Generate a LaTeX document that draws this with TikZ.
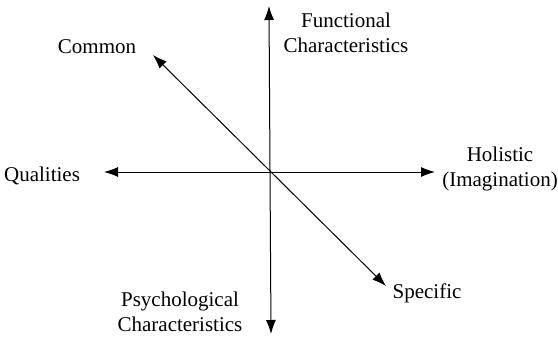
\documentclass[tikz,border=0pt]{standalone}
\usepackage{fontspec}
\setmainfont{Liberation Serif}
\usetikzlibrary{arrows.meta}

\tikzset{
  axis/.style={line width=0.5pt,{Latex[length=7pt,width=5pt]}-{Latex[length=7pt,width=5pt]}},
  lbl/.style={align=center,font=\fontsize{10.5}{12.5}\selectfont,inner sep=0pt}
}

\begin{document}
\begin{tikzpicture}[x=0.5pt,y=-0.5pt]
  \useasboundingbox (0,0) rectangle (558,338);

  \coordinate (top) at (269,6);
  \coordinate (bottom) at (271,334);
  \coordinate (left) at (104,172);
  \coordinate (right) at (435,172);
  \coordinate (upleft) at (153,55);
  \coordinate (downright) at (386,286);

  \draw[axis] (bottom) -- (top);
  \draw[axis] (left) -- (right);
  \draw[axis] (upleft) -- (downright);

  \node[lbl] (func) at (346,33) {Functional\\Characteristics};
  \node[lbl] (common) at (97,47) {Common};
  \node[lbl] (qual) at (42,176) {Qualities};
  \node[lbl] (holistic) at (500,169) {Holistic\\(Imagination)};
  \node[lbl] (specific) at (427,293) {Specific};
  \node[lbl] (psych) at (180,312) {Psychological\\Characteristics};
\end{tikzpicture}
\end{document}
